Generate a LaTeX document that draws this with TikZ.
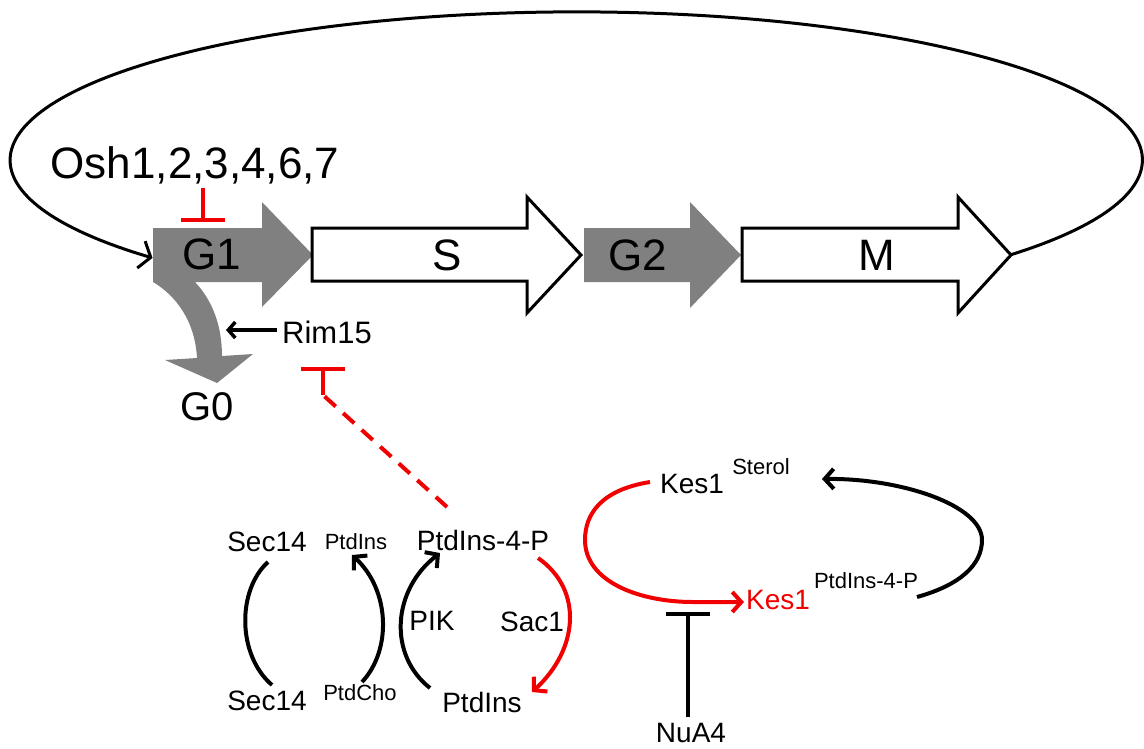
\documentclass[tikz,border=0pt]{standalone}
\usepackage{fontspec}
\setmainfont{Liberation Sans}
\usetikzlibrary{arrows.meta}
\definecolor{ggray}{RGB}{128,128,128}
\definecolor{rred}{RGB}{240,0,0}
\begin{document}
\begin{tikzpicture}[x=1pt,y=-1pt,
  lab/.style={inner sep=0pt, font=\fontsize{28}{30}\selectfont},
  biglab/.style={inner sep=0pt, font=\fontsize{44}{48}\selectfont},
  midlab/.style={inner sep=0pt, font=\fontsize{31}{34}\selectfont},
  sup/.style={inner sep=0pt, font=\fontsize{22}{24}\selectfont},
  grayarrow/.style={fill=ggray, draw=none},
  whitearrow/.style={fill=white, draw=black, line width=3pt, line join=miter},
  conn/.style={line width=4pt},
  openhead/.style={-{Straight Barb[length=9pt,width=20pt]}},
  inhib/.style={-{Bar[width=44pt]}, line width=4pt},
]
\useasboundingbox (0,0) rectangle (1144,748);

% cell cycle arrows
\path[grayarrow] (153,228) -- (262,228) -- (262,202) -- (313,255) -- (262,307) -- (262,282) -- (195,282)
  .. controls (212,300) and (222,325) .. (222,356) -- (253,354) -- (217,383) -- (165,360) -- (197,358)
  .. controls (195,320) and (175,295) .. (153,282) -- cycle;
\draw[whitearrow] (312,228) -- (527,228) -- (527,197) -- (581,255) -- (527,313) -- (527,281) -- (312,281) -- cycle;
\path[grayarrow] (584,228) -- (690,228) -- (690,202) -- (741,255) -- (690,308) -- (690,282) -- (584,282) -- cycle;
\draw[whitearrow] (742,228) -- (958,228) -- (958,197) -- (1011,255) -- (958,313) -- (958,281) -- (742,281) -- cycle;

\node[biglab] (G1) at (212,254) {G1};
\node[biglab] (S) at (447,255) {S};
\node[biglab] (G2) at (638,255) {G2};
\node[biglab] (M) at (877,255) {M};
\node[biglab, font=\fontsize{40}{44}\selectfont] (G0) at (207,407) {G0};
\node[biglab] (Osh) at (195,165) {Osh1,2,3,4,6,7};
\node[midlab] (Rim) at (327,332) {Rim15};

\coordinate (Mtip) at (1010,255);
\draw[line width=3pt, -{Straight Barb[length=10pt,width=28pt]}]
  (Mtip) arc[start angle=40, end angle=-221.5, x radius=566, y radius=148];

% Osh inhibition of G1
\coordinate (OshT) at (203,222);
\draw[rred, inhib] (203,188) -- (OshT);

% Rim15 -> G0 branch
\coordinate (G0br) at (226,330);
\draw[line width=3.5pt, -{Straight Barb[length=7pt,width=16pt]}] (Rim.west) ++(-5,-2) -- (G0br);

% lipid cycles
\node[lab] (SecA) at (267,542) {Sec14};
\node[sup] (PI1) at (356,542) {PtdIns};
\node[lab] (P4P) at (483,540) {PtdIns-4-P};
\node[lab] (SecB) at (267,701) {Sec14};
\node[sup] (PC) at (360,693) {PtdCho};
\node[lab] (PI2) at (482,702) {PtdIns};
\node[lab] (PIK) at (432,621) {PIK};
\node[lab] (Sac) at (532,622) {Sac1};

\draw[conn] (268,562) .. controls (237,590) and (237,655) .. (272,685);
\draw[conn, openhead] (362,682) .. controls (392,650) and (390,590) .. (352,555);
\draw[conn, openhead] (430,688) .. controls (388,655) and (392,590) .. (440,553);
\draw[conn, rred, openhead] (538,558) .. controls (584,590) and (578,650) .. (532,692);

% PtdIns-4-P inhibits Rim15
\coordinate (RimT) at (323,367);
\coordinate (bend) at (323,395);
\draw[rred, line width=4pt, dash pattern=on 15pt off 10pt] (447,507) -- (bend);
\draw[rred, inhib] (bend) -- (RimT);

% Kes1 cycle
\node[lab] (KesA) at (692,484) {Kes1};
\node[sup] (Ster) at (761,467) {Sterol};
\node[lab, text=rred] (KesB) at (778,600) {Kes1};
\node[sup] (P4Psup) at (866,581) {PtdIns-4-P};
\node[lab] (NuA) at (691,733) {NuA4};

\draw[conn, rred, openhead] (650,482) .. controls (600,490) and (585,515) .. (585,540)
  .. controls (585,582) and (640,602) .. (693,602) -- (744,602);
\draw[conn, openhead] (917,597) .. controls (960,585) and (982,565) .. (982,540)
  .. controls (982,505) and (900,478) .. (822,479);
\draw[-{Bar[width=44pt]}, line width=4pt] (688,717) -- (688,612);
\end{tikzpicture}
\end{document}
